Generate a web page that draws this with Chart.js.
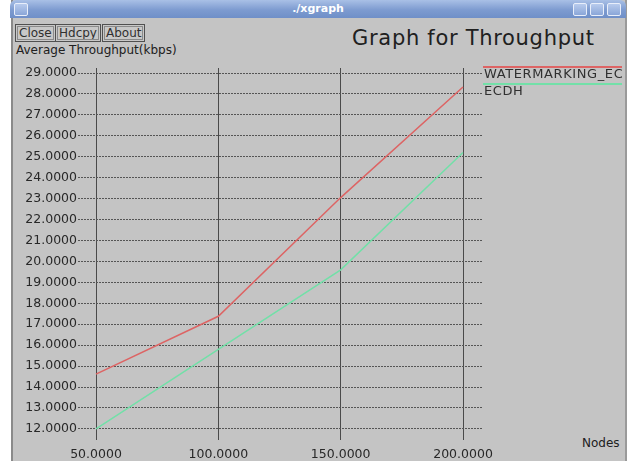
<!DOCTYPE html>
<html>
<head>
<meta charset="utf-8">
<script src="https://cdn.jsdelivr.net/npm/chart.js@4.4.1/dist/chart.umd.min.js"></script>
<style>
  html, body { margin: 0; padding: 0; background: #fff; }
  #win { position: absolute; left: 11px; top: 0; width: 612px; height: 461px; background: #c4c4c4;
         border-left: 2px solid #8a8a8a; border-right: 2px solid #9a9a9a; overflow: hidden; }
  #bar { position: absolute; left: 10px; top: 0; width: 616px; height: 18px; border-radius: 6px 6px 0 0;
         background: linear-gradient(#a9c0e6, #7d9bd0 55%, #6f8fc8); }
  #bar .t { position: absolute; left: 0; width: 100%; top: 2px; text-align: center; color: #fff;
            font: bold 11px "DejaVu Sans", sans-serif; }
  .ic { position: absolute; top: 3px; width: 12px; height: 11px; border: 1px solid #e8eefa; border-radius: 2px;
        background: linear-gradient(#b8cbed, #8aa6d8); }
  .btn { position: absolute; top: 24px; height: 16px; border: 1px solid #505050; outline: 1px solid #8a8a8a;
         outline-offset: -3px; font: 12px "DejaVu Sans", sans-serif; color: #303030; line-height: 16px;
         padding: 0 3px; background: #c8c8c8; }
  .txt { position: absolute; font-family: "DejaVu Sans", sans-serif; color: #202020; white-space: nowrap; }
  #c { position: absolute; left: 0; top: 0; }
</style>
</head>
<body>
<div id="win"></div>
<div id="bar"><div class="t">./xgraph</div></div>
<div class="ic" style="left:14px"></div>
<div class="ic" style="left:573px"></div>
<div class="ic" style="left:590px"></div>
<div class="ic" style="left:607px"></div>
<div class="btn" style="left:15px">Close</div>
<div class="btn" style="left:55px">Hdcpy</div>
<div class="btn" style="left:102px">About</div>
<div class="txt" style="left:352px;top:26px;font-size:21px;letter-spacing:0.7px;">Graph for Throughput</div>
<div class="txt" style="left:16px;top:43px;font-size:12px;">Average Throughput(kbps)</div>
<div class="txt" style="left:582px;top:436px;font-size:12px;">Nodes</div>
<canvas id="c" width="627" height="461"></canvas>
<script>
// values
const nodes = [50, 100, 150, 200];
const watermarking = [14.62, 17.38, 23.05, 28.33];
const ecdh = [12.0, 15.8, 19.6, 25.2];
const xTicks = [50, 100, 150, 200];
const yTicks = [12, 13, 14, 15, 16, 17, 18, 19, 20, 21, 22, 23, 24, 25, 26, 27, 28, 29];
const seriesNames = ["WATERMARKING_ECDH", "ECDH"];
const seriesColors = ["#dd6464", "#72e0a8"];

// legend at the right side, like xgraph does it
const xgLegend = {
  id: "xgLegend",
  afterDraw(chart) {
    const ctx = chart.ctx;
    const x0 = chart.chartArea.right;
    ctx.save();
    ctx.beginPath();
    ctx.rect(x0, 0, 622 - x0, chart.height);
    ctx.clip();
    chart.data.datasets.forEach((ds, i) => {
      const y = 67 + i * 17;
      ctx.strokeStyle = ds.borderColor;
      ctx.lineWidth = 2;
      ctx.beginPath();
      ctx.moveTo(x0, y);
      ctx.lineTo(627, y);
      ctx.stroke();
      ctx.fillStyle = "#303030";
      ctx.font = "13px 'DejaVu Sans'";
      ctx.letterSpacing = "0.6px";
      ctx.textBaseline = "top";
      ctx.fillText(ds.label, x0 + 1, y + 1);
    });
    ctx.restore();
  }
};

new Chart(document.getElementById("c").getContext("2d"), {
  type: "line",
  data: {
    datasets: [
      {
        label: seriesNames[0],
        data: nodes.map((n, i) => ({x: n, y: watermarking[i]})),
        borderColor: seriesColors[0],
        borderWidth: 1.5,
        pointRadius: 0,
        tension: 0,
      },
      {
        label: seriesNames[1],
        data: nodes.map((n, i) => ({x: n, y: ecdh[i]})),
        borderColor: seriesColors[1],
        borderWidth: 1.5,
        pointRadius: 0,
        tension: 0,
      },
    ],
  },
  options: {
    responsive: false,
    animation: false,
    layout: { padding: { top: 68, right: 144, left: 0, bottom: 0 } },
    plugins: { legend: { display: false }, tooltip: { enabled: false } },
    scales: {
      x: {
        type: "linear",
        min: 42.64,
        max: 208.17,
        afterBuildTicks: s => { s.ticks = xTicks.map(v => ({value: v})); },
        afterFit: s => { s.height = 21; },
        grid: { color: "#4a4a4a", lineWidth: 1, drawTicks: false },
        border: { display: false },
        ticks: {
          padding: 7,
          color: "#282828",
          font: { family: "DejaVu Sans", size: 12.5 },
          maxRotation: 0,
          callback: v => v.toFixed(4),
        },
      },
      y: {
        min: 11.47,
        max: 29.24,
        afterBuildTicks: s => { s.ticks = yTicks.map(v => ({value: v})); },
        afterFit: s => { s.width = 78; },
        grid: { color: "#555555", lineWidth: 1, drawTicks: false },
        border: { display: false, dash: [2, 1] },
        ticks: {
          padding: 1,
          color: "#282828",
          font: { family: "DejaVu Sans", size: 12.5 },
          callback: v => v.toFixed(4),
        },
      },
    },
  },
  plugins: [xgLegend],
});
</script>
</body>
</html>
